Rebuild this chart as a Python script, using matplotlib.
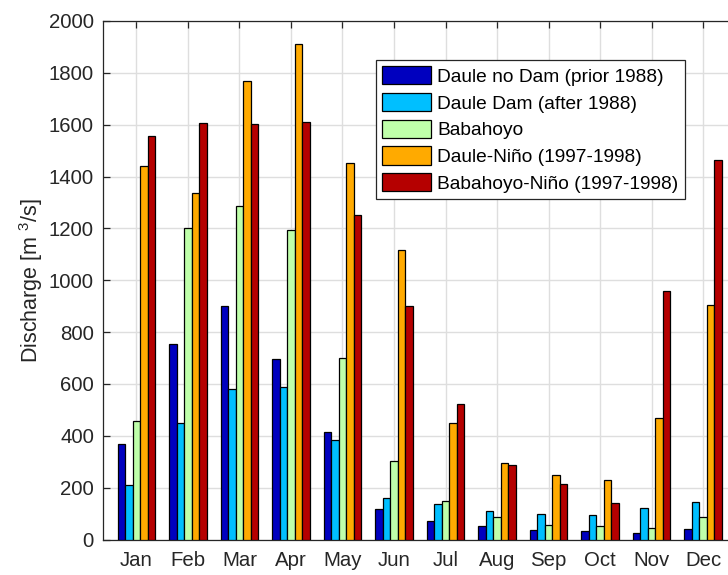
import numpy as np
import matplotlib
matplotlib.use("Agg")
import matplotlib.pyplot as plt

plt.rcParams['font.family'] = ['Liberation Sans', 'DejaVu Sans']
plt.rcParams['mathtext.default'] = 'regular'

months = ['Jan', 'Feb', 'Mar', 'Apr', 'May', 'Jun', 'Jul', 'Aug', 'Sep', 'Oct', 'Nov', 'Dec']
labels = ['Daule no Dam (prior 1988)', 'Daule Dam (after 1988)', 'Babahoyo',
          'Daule-Niño (1997-1998)', 'Babahoyo-Niño (1997-1998)']

daule_no_dam = [368, 756, 900, 697, 413, 117, 70, 53, 36, 31, 26, 39]
daule_dam = [212, 449, 579, 587, 385, 159, 137, 111, 99, 94, 121, 143]
babahoyo = [459, 1203, 1287, 1192, 702, 302, 147, 88, 57, 52, 46, 88]
daule_nino = [1440, 1338, 1768, 1910, 1453, 1117, 449, 295, 250, 228, 467, 903]
babahoyo_nino = [1558, 1608, 1602, 1612, 1250, 900, 524, 286, 213, 142, 957, 1462]

series = [daule_no_dam, daule_dam, babahoyo, daule_nino, babahoyo_nino]
colors = ['#0000BF', '#00BFFF', '#BFFFAA', '#FFAA00', '#B50000']

fig = plt.figure(figsize=(7.28, 5.75), dpi=100)
# axes runs slightly past the right edge, as in the reference
ax = fig.add_axes([103 / 728, 1 - 539.5 / 575, 633.5 / 728, 518.5 / 575])

x = np.arange(1, len(months) + 1)
w = 0.146
for i, (vals, c, lab) in enumerate(zip(series, colors, labels)):
    ax.bar(x + (i - 2) * w, vals, width=w, color=c, edgecolor='black',
           linewidth=0.9, label=lab, zorder=3)

ax.set_xlim(0.35, 12.65)
ax.set_ylim(0, 2000)
ax.set_xticks(x)
ax.set_xticklabels(months)
ax.set_yticks(np.arange(0, 2001, 200))

ax.set_axisbelow(True)
ax.grid(True, color='#DEDEDE', linewidth=1.0, zorder=0)

dark = '#262626'
for s in ax.spines.values():
    s.set_color(dark)
    s.set_linewidth(0.9)
ax.tick_params(direction='in', length=5, width=0.9, color=dark, labelcolor=dark,
               labelsize=14.7, top=True, right=True)
ax.tick_params(axis='x', pad=8.5)
ax.tick_params(axis='y', pad=6.5)

ax.set_ylabel('Discharge [m $^{3}$/s]', fontsize=15.5, color=dark, labelpad=3)

leg = ax.legend(loc='upper left', bbox_to_anchor=(376 / 728, 1 - 60 / 575),
                bbox_transform=fig.transFigure, fontsize=13.8, frameon=True,
                fancybox=False, framealpha=1, edgecolor=dark,
                handlelength=2.55, handleheight=1.08, handletextpad=0.31,
                labelspacing=0.37, borderpad=0.33, borderaxespad=0)
leg.get_frame().set_linewidth(0.9)
for t in leg.get_texts():
    t.set_color('black')

fig.savefig('out.png', dpi=100)
